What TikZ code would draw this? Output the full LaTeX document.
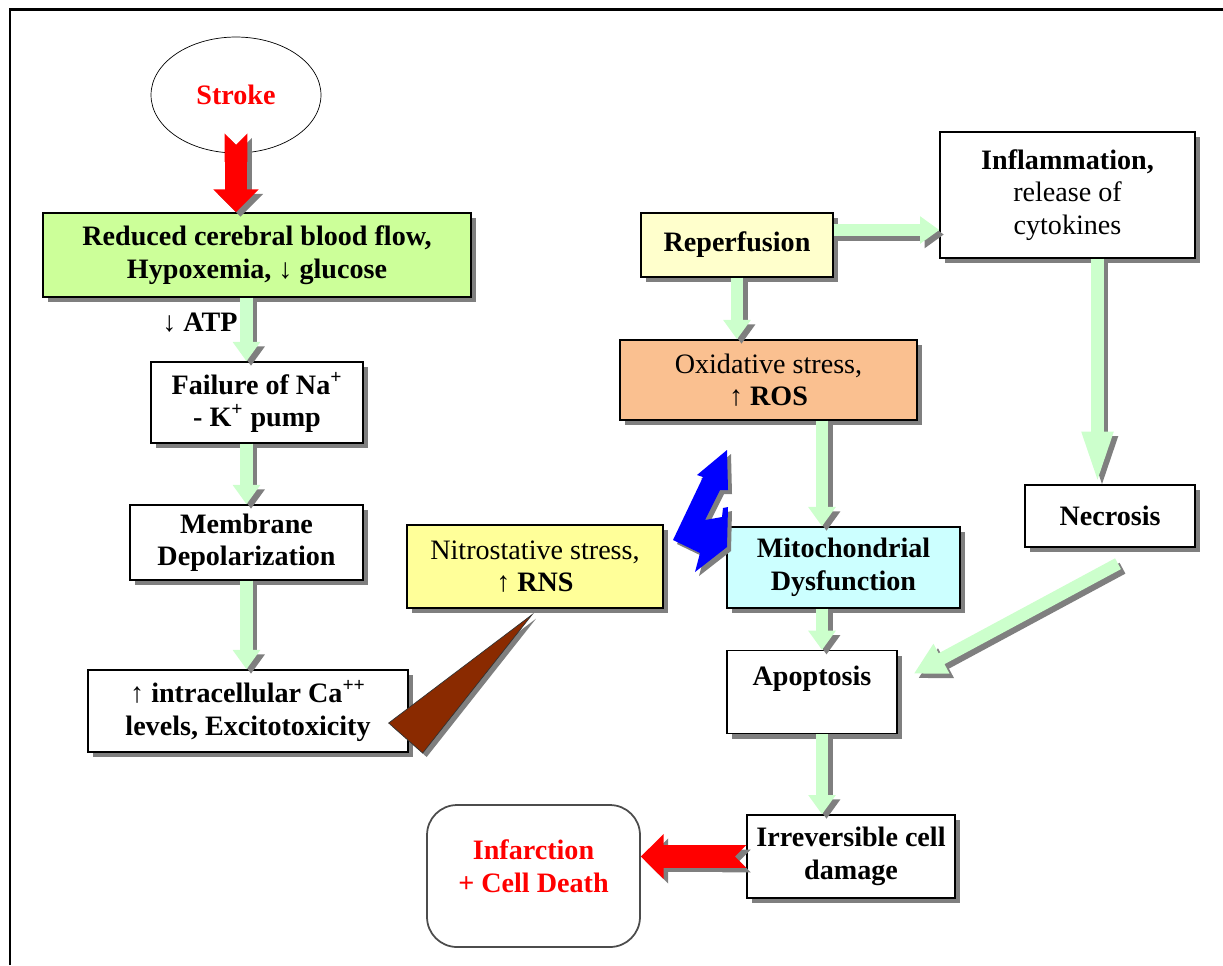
\documentclass[tikz,border=0pt]{standalone}
\usepackage{fontspec}
\setmainfont{Liberation Serif}
\usetikzlibrary{arrows.meta,shapes.geometric,shadows}
\definecolor{boxGreen}{HTML}{CCFF99}
\definecolor{boxCream}{HTML}{FFFFCC}
\definecolor{boxPeach}{HTML}{FAC090}
\definecolor{boxYellow}{HTML}{FFFF99}
\definecolor{boxCyan}{HTML}{CCFFFF}
\definecolor{arrGreen}{HTML}{CCFFCC}
\definecolor{arrBrown}{HTML}{8A2A00}
\definecolor{shadeGray}{HTML}{7F7F7F}
\tikzstyle{flow}     = [rectangle,draw,line width=0.8pt,align=center,font=\fontsize{16}{18.5}\selectfont\bfseries,
                        drop shadow={shadow xshift=0.1cm,shadow yshift=-0.1cm,fill=shadeGray,opacity=1}]
\tikzstyle{grarrow}  = [draw=arrGreen,line width=7pt,-{Triangle[width=15pt,length=11pt]}]
\tikzstyle{redarrow} = [draw=red,line width=13pt,{Triangle Cap[reversed]}-{Triangle[width=25pt,length=13pt]}]
% arrow with a grey copy behind it
\newcommand{\castarrow}[3]{%
  \draw[#1,draw=shadeGray,transform canvas={shift={(0.09cm,-0.09cm)}}] #2 -- #3;
  \draw[#1] #2 -- #3;}

\begin{document}
\begin{tikzpicture}[x=0.02cm,y=-0.02cm]
	\useasboundingbox (0,0) rectangle (1223,965);
	\draw[line width=1.7pt] (10,965) -- (10,9) -- (1223,9);

	\node[ellipse,draw,minimum width=3.4cm,minimum height=2.32cm,text=red,
	      font=\fontsize{16}{18.5}\selectfont\bfseries] (stroke) at (236,95) {Stroke};

	% left column
	\node[flow,fill=boxGreen,minimum width=8.56cm,minimum height=1.68cm] (green) at (257,255)
	     {Reduced cerebral blood flow,\\Hypoxemia, ↓ glucose};
	\node[font=\fontsize{16}{18.5}\selectfont\bfseries] (atp) at (200,323) {↓ ATP};
	\node[flow,fill=white,minimum width=4.24cm,minimum height=1.62cm] (fail) at (257,402.5)
	     {Failure of Na\textsuperscript{+}\\- K\textsuperscript{+} pump};
	\node[flow,fill=white,minimum width=4.66cm,minimum height=1.5cm] (memb) at (246.5,542.5)
	     {Membrane\\Depolarization};
	\node[flow,fill=white,minimum width=6.4cm,minimum height=1.64cm] (ca) at (248,711)
	     {↑ intracellular Ca\textsuperscript{++}\\levels, Excitotoxicity};

	% middle and right
	\node[flow,fill=boxYellow,minimum width=5.12cm,minimum height=1.66cm] (nitro) at (535,566.5)
	     {{\mdseries Nitrostative stress,}\\↑ RNS};
	\node[flow,fill=boxCream,minimum width=3.84cm,minimum height=1.28cm] (reperf) at (737,245)
	     {Reperfusion};
	\node[flow,fill=white,minimum width=5.1cm,minimum height=2.52cm] (inflam) at (1067.5,195)
	     {Inflammation,\\{\mdseries release of}\\{\mdseries cytokines}};
	\node[flow,fill=boxPeach,minimum width=5.94cm,minimum height=1.6cm] (oxid) at (768.5,380)
	     {{\mdseries Oxidative stress,}\\↑ ROS};
	\node[flow,fill=boxCyan,minimum width=4.66cm,minimum height=1.62cm] (mito) at (843.5,567.5)
	     {Mitochondrial\\Dysfunction};
	\node[flow,fill=white,minimum width=3.4cm,minimum height=1.24cm] (necro) at (1110,516)
	     {Necrosis};
	\node[flow,fill=white,anchor=north,minimum width=3.4cm,text height=0.4cm,text depth=0.66cm,
	      inner ysep=0.3cm] (apop) at (812,650) {Apoptosis};
	\node[flow,fill=white,minimum width=4.16cm,minimum height=1.66cm] (irrev) at (851,856.5)
	     {Irreversible cell\\damage};
	\node[draw=black!70,line width=1pt,rounded corners=0.6cm,minimum width=4.26cm,minimum height=2.84cm,
	      align=center,text depth=0.4cm,text=red,font=\fontsize{16}{18.5}\selectfont\bfseries] (infar) at (533.5,876)
	     {Infarction\\+ Cell Death};

	\coordinate (rcol) at (822,0);

	% arrows
	\castarrow{redarrow}{([yshift=0.4cm]stroke.south)}{(stroke.south |- green.north)}
	\castarrow{grarrow}{(green.south -| memb.north)}{(fail.north -| memb.north)}
	\castarrow{grarrow}{(fail.south -| memb.north)}{(memb.north)}
	\castarrow{grarrow}{(memb.south)}{(memb.south |- ca.north)}
	\castarrow{grarrow}{(reperf.south)}{(reperf.south |- oxid.north)}
	\castarrow{grarrow}{([yshift=0.3cm]reperf.east)}{([yshift=0.3cm]reperf.east -| inflam.west)}
	\castarrow{grarrow}{(oxid.south -| rcol)}{(mito.north -| rcol)}
	\castarrow{grarrow}{(mito.south -| rcol)}{(apop.north -| rcol)}
	\castarrow{grarrow}{(apop.south -| rcol)}{(irrev.north -| rcol)}
	\castarrow{grarrow,-{Triangle[width=16pt,length=30pt]}}{([xshift=0.6cm]inflam.south)}{([xshift=0.6cm]inflam.south |- necro.north)}
	\castarrow{grarrow,-{Triangle[width=18pt,length=18pt]}}{([xshift=0.16cm,yshift=-0.32cm]necro.south)}{([xshift=0.32cm,yshift=0.37cm]apop.east)}
	\castarrow{redarrow}{(irrev.west)}{(irrev.west -| infar.east)}

	% wedge from the calcium box to the nitrostative box
	\draw[fill=arrBrown,draw=black!80,drop shadow={shadow xshift=0.08cm,shadow yshift=-0.08cm,fill=shadeGray,opacity=1}]
	     ([xshift=-0.06cm,yshift=-0.12cm]nitro.south) -- ([xshift=-0.4cm,yshift=-0.24cm]ca.east)
	     -- ([xshift=0.28cm,yshift=-0.84cm]ca.east) -- cycle;

	% double arrow between ROS and RNS
	\fill[blue,drop shadow={shadow xshift=0.08cm,shadow yshift=-0.08cm,fill=shadeGray,opacity=1}]
	     (727,450) -- (728,490) -- (720,490) -- (705,520) -- (722,517) -- (723,508) -- (728,507)
	     -- (727,547) -- (695,572) -- (700,553) -- (673,540) -- (703,477) -- (697,475) -- cycle;
\end{tikzpicture}
\end{document}
